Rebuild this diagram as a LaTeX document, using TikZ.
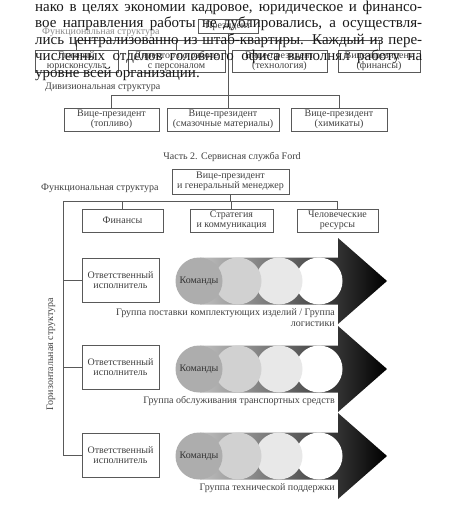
\documentclass[tikz,border=0pt]{standalone}
\usepackage{fontspec}
\setmainfont{Liberation Serif}
\begin{document}
\begin{tikzpicture}[x=1pt,y=-1pt,
  linec/.style={draw=black!65, line width=0.8pt},
  box/.style={linec, inner sep=0pt, align=center, text=black!75,
    font=\fontsize{10}{10}\selectfont},
  lbl/.style={inner sep=0pt, text=black!75, font=\fontsize{10}{11}\selectfont},
  para/.style={inner sep=0pt, anchor=base west, text=black!90,
    font=\fontsize{15}{16}\selectfont},
  conn/.style={linec}
]
\useasboundingbox (0,0) rectangle (468,514);
\fill[white] (0,0) rectangle (468,514);

% ---------- Part 1 (under the paragraph) ----------
\node[box, minimum width=60, minimum height=14] (pres) at (228,26) {Президент};
\node[lbl, anchor=west, text=black!45] (fs1) at (42,32) {Функциональная структура};
\node[box, minimum width=83, minimum height=22] (g1) at (76.5,61) {Главный\\юрисконсульт};
\node[box, minimum width=97, minimum height=22] (g2) at (176.5,61) {Директор по работе\\с персоналом};
\node[box, minimum width=95, minimum height=22] (g3) at (279.5,61) {Вице-президент\\(технология)};
\node[box, minimum width=82, minimum height=22] (g4) at (379,61) {Вице-президент\\(финансы)};
\coordinate (tb) at (228,40);
\draw[conn] (g1.north) |- (g4.north |- tb) -- (g4.north);
\draw[conn] (g2.north) -- (g2.north |- tb);
\draw[conn] (g3.north) -- (g3.north |- tb);

\node[lbl, anchor=west] (ds) at (45,87) {Дивизиональная структура};
\node[box, minimum width=95, minimum height=23] (d1) at (111.5,119.5) {Вице-президент\\(топливо)};
\node[box, minimum width=112, minimum height=23] (d2) at (223,119.5) {Вице-президент\\(смазочные материалы)};
\node[box, minimum width=96, minimum height=23] (d3) at (339,119.5) {Вице-президент\\(химикаты)};
\coordinate (db) at (228,95);
\draw[conn] (pres.south) -- (pres.south |- d2.north);
\draw[conn] (d1.north) |- (d3.north |- db) -- (d3.north);

% ---------- paragraph ----------
\node[para] (p1) at (35,11) {\makebox[387pt][s]{нако в целях экономии кадровое, юридическое и финансо-}};
\node[para] (p2) at (35,27.5) {\makebox[387pt][s]{вое направления работы не дублировались, а осуществля-}};
\node[para] (p3) at (35,44) {\makebox[387pt][s]{лись централизованно из штаб-квартиры. Каждый из пере-}};
\node[para] (p4) at (35,60.5) {\makebox[387pt][s]{численных отделов головного офиса выполнял работу на}};
\node[para] (p5) at (35,77) {уровне всей организации.};

% ---------- Part 2 ----------
\node[lbl] (title) at (232,157) {Часть 2. Сервисная служба Ford};
\node[box, minimum width=117, minimum height=25] (vp) at (230.5,181.5) {Вице-президент\\и генеральный менеджер};
\node[lbl, anchor=west] (fs2) at (41,188) {Функциональная структура};
\node[box, minimum width=81, minimum height=23] (f1) at (122.5,220.5) {Финансы};
\node[box, minimum width=83, minimum height=23] (f2) at (231.5,220.5) {Стратегия\\и коммуникация};
\node[box, minimum width=81, minimum height=23] (f3) at (337.5,220.5) {Человеческие\\ресурсы};
\coordinate (fb) at (63,201);
\draw[conn] (vp.south) -- (vp.south |- fb);
\draw[conn] (fb) -- (f3.north |- fb) -- (f3.north);
\draw[conn] (f1.north) -- (f1.north |- fb);
\draw[conn] (f2.north) -- (f2.north |- fb);

\node[box, minimum width=77, minimum height=44] (r1) at (120.5,280) {Ответственный\\исполнитель};
\node[box, minimum width=77, minimum height=44] (r2) at (120.5,367.5) {Ответственный\\исполнитель};
\node[box, minimum width=77, minimum height=44] (r3) at (120.5,455.5) {Ответственный\\исполнитель};
\draw[conn] (fb) |- (r3.west);
\draw[conn] (r1.west) -- (r1.west -| fb);
\draw[conn] (r2.west) -- (r2.west -| fb);
\node[lbl, rotate=90] (hs) at (51,354) {Горизонтальная структура};

% team arrows
\newcommand\teamrow[3]{%
  \shade[left color=black!25, right color=black]
    (200,{#1-23.5}) -- (338,{#1-23.5}) -- (338,{#1-43}) -- (387,#1)
    -- (338,{#1+43}) -- (338,{#1+23.5}) -- (200,{#1+23.5}) -- cycle;
  \node[circle, fill=white, minimum size=47, inner sep=0pt] (#2d) at (319,#1) {};
  \node[circle, fill=black!9, minimum size=47, inner sep=0pt] (#2c) at (279,#1) {};
  \node[circle, fill=black!18, minimum size=47, inner sep=0pt] (#2b) at (238,#1) {};
  \node[circle, fill=black!32, minimum size=47, inner sep=0pt, text=black!80,
    font=\fontsize{10}{10}\selectfont] (#2a) at (199,#1) {Команды};
  \node[lbl, anchor=north east, align=right] (#2l) at (335,{#1+27}) {#3};
}
\teamrow{281}{ta}{Группа поставки комплектующих изделий / Группа\\логистики}
\teamrow{369}{tb}{Группа обслуживания транспортных средств}
\teamrow{456}{tc}{Группа технической поддержки}
\end{tikzpicture}
\end{document}
